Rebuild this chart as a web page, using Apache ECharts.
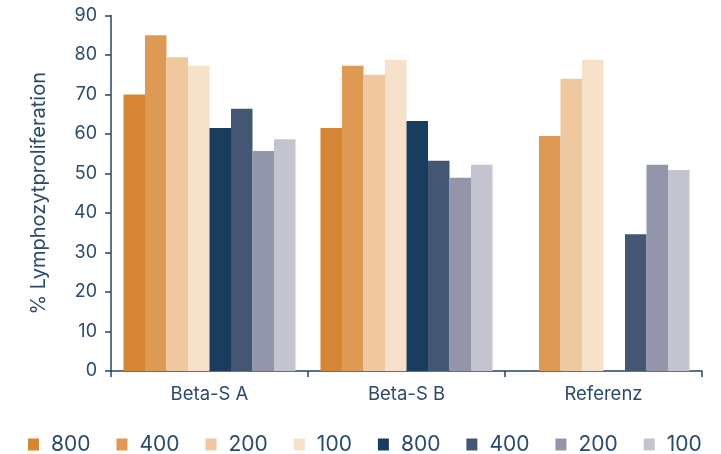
<!DOCTYPE html>
<html>
<head>
<meta charset="utf-8">
<script src="https://cdn.jsdelivr.net/npm/echarts@6/dist/echarts.min.js"></script>
<style>
html,body{margin:0;padding:0;background:#fff;}
#c{width:721px;height:454px;}
</style>
</head>
<body>
<div id="c"></div>
<script>
const categories = ['Beta-S A', 'Beta-S B', 'Referenz'];
const seriesNames = ['800', '400', '200', '100', '800', '400', '200', '100'];
const orange800 = [70, 61.5, null];
const orange400 = [85, 77.3, 59.5];
const orange200 = [79.4, 75, 74];
const orange100 = [77.3, 78.8, 78.8];
const blue800 = [61.5, 63.3, null];
const blue400 = [66.4, 53.2, 34.6];
const blue200 = [55.7, 48.9, 52.2];
const blue100 = [58.7, 52.2, 50.9];
const yTicks = { min: 0, max: 90, interval: 10 };

const dataSets = [orange800, orange400, orange200, orange100, blue800, blue400, blue200, blue100];
const colors = ['#D58533', '#DE9A55', '#EFC8A0', '#F6E2CA', '#1A3C5E', '#435674', '#9396AA', '#C4C4D0'];
const axisColor = '#23456A';
const textColor = '#2B4A6C';
const font = 'Inter';

const series = dataSets.map((d, i) => ({
  name: 'k' + i,
  type: 'bar',
  data: d,
  barGap: '0%',
  barCategoryGap: '12.7%',
  itemStyle: { color: colors[i] },
  emphasis: { disabled: true }
}));

const chart = echarts.init(document.getElementById('c'));
chart.setOption({
  animation: false,
  textStyle: { fontFamily: font },
  grid: { left: 111, right: 19, top: 15.5, bottom: 83 },
  legend: {
    left: 23,
    top: 429,
    icon: 'rect',
    itemWidth: 11,
    itemHeight: 12,
    itemGap: 26,
    data: series.map(s => s.name),
    formatter: n => seriesNames[+n.slice(1)],
    textStyle: { color: textColor, fontSize: 21, fontFamily: font, padding: [0, 0, 0, 7] }
  },
  xAxis: {
    type: 'category',
    data: categories,
    axisLine: { lineStyle: { color: axisColor, width: 1.5 } },
    axisTick: { show: true, length: 6, lineStyle: { color: axisColor, width: 1.5 } },
    axisLabel: { color: textColor, fontSize: 18.5, margin: 14, fontFamily: font }
  },
  yAxis: {
    type: 'value',
    min: yTicks.min,
    max: yTicks.max,
    interval: yTicks.interval,
    name: '% Lymphozytproliferation',
    nameLocation: 'middle',
    nameGap: 62,
    nameTextStyle: { color: textColor, fontSize: 20, fontFamily: font },
    axisLine: { show: true, lineStyle: { color: axisColor, width: 1.5 } },
    axisTick: { show: true, length: 6, lineStyle: { color: axisColor, width: 1.5 } },
    axisLabel: { color: textColor, fontSize: 18, margin: 14, fontFamily: font },
    splitLine: { show: false }
  },
  series: series
});
</script>
</body>
</html>
